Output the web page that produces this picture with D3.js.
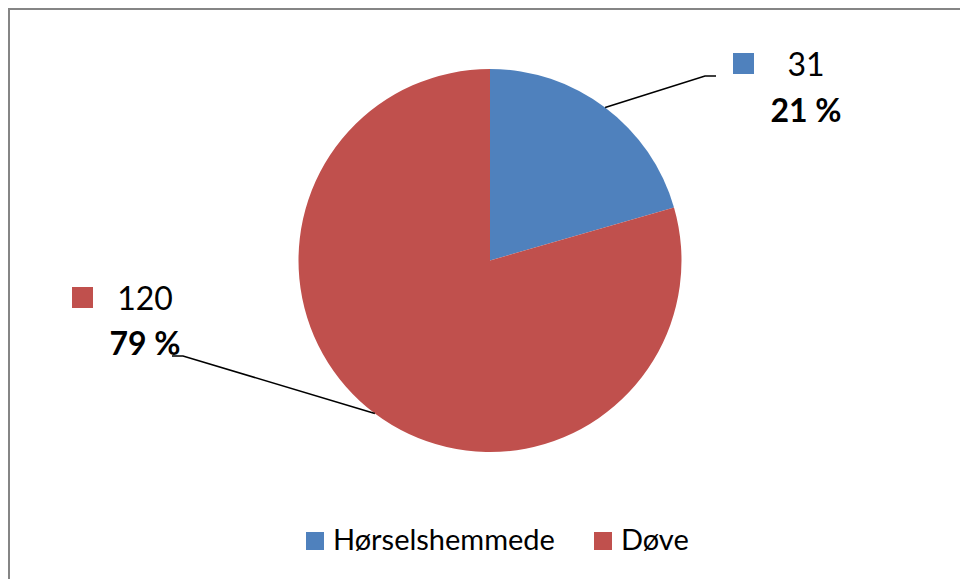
<!DOCTYPE html>
<html>
<head>
<meta charset="utf-8">
<script src="https://cdn.jsdelivr.net/npm/d3@7"></script>
<style>
  body { margin: 0; background: #fff; }
  svg { display: block; font-family: Lato, "Open Sans", sans-serif; }
</style>
</head>
<body>
<svg width="960" height="579"></svg>
<script>
// pie of hearing status counts
var categories = ["Hørselshemmede", "Døve"];
var values = [31, 120];
var percentLabels = ["21 %", "79 %"];
var colors = ["#4F81BD", "#C0504D"];

var svg = d3.select("svg"),
  cx = 490,
  cy = 260.5,
  radius = 191.5;

// chart frame (right and bottom edges run off the page)
svg.append("rect")
  .attr("x", 9).attr("y", 9)
  .attr("width", 1000).attr("height", 1000)
  .attr("fill", "none")
  .attr("stroke", "#858585")
  .attr("stroke-width", 2);

var pie = d3.pie().sort(null).value(function (d) { return d; });
var arcs = pie(values);

var arc = d3.arc().innerRadius(0).outerRadius(radius);
var edge = d3.arc().innerRadius(radius).outerRadius(radius);

var g = svg.append("g").attr("transform", "translate(" + cx + "," + cy + ")");

g.selectAll(".slice")
  .data(arcs)
  .enter()
  .append("path")
  .attr("class", "slice")
  .attr("d", arc)
  .attr("fill", function (d, i) { return colors[i]; });

// data labels: where each label sits and where its leader line bends
var labelPos = [
  { x: 806, y1: 76, y2: 122, key: 733, elbow: [705, 76], end: [716, 76] },
  { x: 145, y1: 310, y2: 355, key: 72, elbow: [183, 356], end: [172, 356] }
];

arcs.forEach(function (d, i) {
  var p = edge.centroid(d);
  var lp = labelPos[i];
  svg.append("polyline")
    .attr("points", [
      [cx + p[0], cy + p[1]],
      lp.elbow,
      lp.end
    ].map(function (q) { return q.join(","); }).join(" "))
    .attr("fill", "none")
    .attr("stroke", "#000")
    .attr("stroke-width", 1.6);

  svg.append("text")
    .attr("x", lp.x)
    .attr("y", lp.y1)
    .attr("text-anchor", "middle")
    .attr("font-size", 32)
    .attr("fill", "#000")
    .text(values[i]);

  svg.append("rect")
    .attr("x", lp.key)
    .attr("y", lp.y1 - 23)
    .attr("width", 21)
    .attr("height", 21)
    .attr("fill", colors[i]);

  svg.append("text")
    .attr("x", lp.x)
    .attr("y", lp.y2)
    .attr("text-anchor", "middle")
    .attr("font-size", 32)
    .attr("font-weight", "bold")
    .attr("fill", "#000")
    .text(percentLabels[i]);
});

// legend
var legendX = [306, 594];
var legend = svg.selectAll(".legend")
  .data(categories)
  .enter()
  .append("g")
  .attr("class", "legend")
  .attr("transform", function (d, i) { return "translate(" + legendX[i] + ",532)"; });

legend.append("rect")
  .attr("width", 18)
  .attr("height", 18)
  .attr("fill", function (d, i) { return colors[i]; });

legend.append("text")
  .attr("x", 27)
  .attr("y", 18)
  .attr("font-size", 29)
  .attr("fill", "#000")
  .text(function (d) { return d; });
</script>
</body>
</html>
